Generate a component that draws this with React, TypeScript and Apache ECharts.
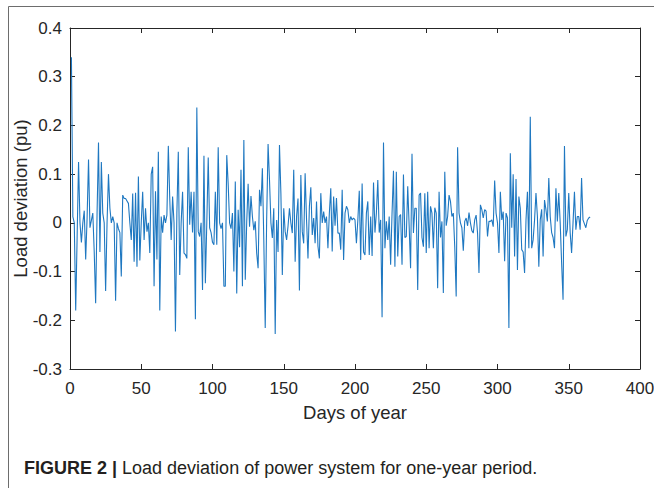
import React, { useEffect, useRef } from "react";
import * as echarts from "echarts";

// Load deviation (pu) for days 1..365
const loadDeviation: number[] = [
  0.34, 0.013, 0.0, -0.18, -0.03, 0.125, 0.0, -0.04, 0.0, 0.025,
  -0.075, 0.01, 0.13, -0.01, 0.005, 0.02, -0.06, -0.165, 0.02, 0.165,
  -0.06, 0.125, 0.02, 0.0, -0.14, 0.0, 0.1, 0.03, 0.0, 0.013,
  0.0, -0.16, 0.0, -0.012, -0.02, -0.11, 0.057, 0.05, 0.05, 0.045,
  0.04, 0.0, -0.035, 0.06, -0.08, 0.062, -0.09, 0.095, -0.077, 0.0,
  0.064, -0.035, 0.03, -0.018, 0.0, -0.062, 0.1, 0.115, -0.13, 0.065,
  -0.075, 0.146, -0.18, 0.013, -0.02, 0.016, 0.0, 0.016, 0.158, 0.05,
  -0.035, 0.054, 0.0, -0.223, 0.02, 0.146, -0.107, 0.0, 0.064, -0.062,
  -0.065, -0.073, 0.155, -0.004, 0.064, -0.02, 0.064, -0.198, 0.237, -0.018,
  -0.028, 0.0, -0.138, 0.138, -0.124, 0.0, 0.134, -0.01, -0.02, -0.04,
  -0.045, 0.064, -0.045, 0.155, 0.0, -0.012, 0.0, -0.13, -0.13, 0.139,
  0.08, 0.0, -0.012, 0.02, -0.1, 0.085, -0.145, 0.027, -0.05, 0.109,
  -0.13, 0.17, -0.117, 0.0, 0.08, -0.008, 0.055, 0.013, -0.015, 0.003,
  -0.062, -0.093, 0.068, 0.034, 0.112, -0.035, -0.216, 0.006, 0.162, 0.088,
  0.0, -0.031, 0.03, -0.228, 0.006, -0.06, 0.16, 0.06, -0.107, 0.03,
  -0.018, -0.035, -0.007, 0.03, 0.0, -0.021, 0.109, -0.08, 0.013, 0.05,
  -0.139, 0.098, -0.018, -0.042, 0.102, 0.006, -0.073, 0.034, 0.073, -0.025,
  0.01, -0.042, 0.044, -0.048, -0.073, 0.061, 0.0, 0.023, 0.0, 0.013,
  -0.052, 0.02, 0.071, -0.059, 0.054, -0.006, 0.051, -0.021, -0.021, -0.055,
  0.068, -0.076, 0.02, 0.034, 0.027, 0.0, 0.013, 0.006, 0.01, 0.006,
  -0.042, 0.006, 0.066, -0.076, 0.081, -0.06, -0.066, 0.02, 0.044, -0.066,
  0.013, -0.068, 0.083, -0.02, 0.02, 0.088, -0.02, 0.006, -0.194, 0.165,
  -0.052, 0.003, -0.035, 0.013, -0.086, 0.02, 0.107, -0.09, 0.105, -0.069,
  0.013, 0.017, -0.086, 0.099, -0.03, -0.028, 0.075, -0.006, -0.093, 0.142,
  -0.021, 0.03, 0.03, -0.138, 0.057, 0.061, -0.03, -0.049, 0.061, -0.062,
  0.064, -0.052, 0.034, 0.02, -0.052, 0.031, 0.02, -0.134, 0.064, -0.03,
  0.003, -0.144, 0.105, -0.006, 0.013, 0.057, 0.044, 0.013, 0.02, -0.049,
  -0.151, 0.155, 0.02, 0.0, -0.01, -0.057, 0.003, 0.01, -0.006, 0.021,
  0.0, -0.016, -0.021, 0.006, 0.016, -0.021, -0.103, 0.037, 0.027, 0.01,
  0.027, 0.024, -0.028, 0.003, 0.003, 0.006, -0.008, 0.087, 0.02, 0.0,
  -0.062, 0.064, 0.006, 0.023, -0.079, 0.02, 0.01, -0.216, 0.143, -0.01,
  0.1, -0.069, 0.09, -0.097, 0.054, 0.03, -0.055, -0.06, -0.103, 0.006,
  0.064, -0.052, 0.218, -0.052, -0.035, 0.006, 0.061, 0.013, -0.09, 0.006,
  0.028, -0.069, 0.047, 0.027, 0.003, 0.092, 0.013, -0.02, -0.03, -0.052,
  0.071, 0.003, 0.061, 0.0, -0.083, -0.158, 0.158, -0.028, -0.014, 0.061,
  -0.02, -0.062, 0.0, 0.064, -0.014, 0.013, 0.013, -0.014, 0.092, 0.006,
  -0.002, -0.01, 0.005, 0.01, 0.012,
];

const firstDay = 1;
const xTitle = "Days of year";
const yTitle = "Load deviation (pu)";
const captionBold = "FIGURE 2 |";
const captionText = " Load deviation of power system for one-year period.";

const FONT = "'Liberation Sans', Arial, Helvetica, sans-serif";
const AXIS_COLOR = "#262626";

export default function App() {
  const ref = useRef<HTMLDivElement>(null);

  useEffect(() => {
    document.body.style.margin = "0";
    if (!ref.current) return;
    const chart = echarts.init(ref.current, undefined, { renderer: "svg" });

    const seriesData = loadDeviation.map((v, i) => [firstDay + i, v]);

    const fmtY = (v: number) => {
      const r = Math.round(v * 10) / 10;
      return r === 0 ? "0" : String(r);
    };

    const axisLine = { show: true, onZero: false, lineStyle: { color: AXIS_COLOR, width: 1 } };
    const tick = { show: true, inside: true, length: 5, lineStyle: { color: AXIS_COLOR } };
    const labelStyle = { color: AXIS_COLOR, fontFamily: FONT, fontSize: 17 };

    chart.setOption({
      animation: false,
      backgroundColor: "#ffffff",
      grid: {
        left: 70,
        right: 14,
        top: 28,
        bottom: 119,
        containLabel: false,
        outerBoundsMode: "none",
      },
      xAxis: [
        {
          type: "value",
          min: 0,
          max: 400,
          interval: 50,
          position: "bottom",
          axisLine,
          axisTick: tick,
          splitLine: { show: false },
          axisLabel: { ...labelStyle, margin: 11 },
          name: xTitle,
          nameLocation: "middle",
          nameGap: 34,
          nameMoveOverlap: false,
          nameTextStyle: { color: AXIS_COLOR, fontFamily: FONT, fontSize: 18.5 },
        },
        {
          type: "value",
          min: 0,
          max: 400,
          interval: 50,
          position: "top",
          axisLine,
          axisTick: tick,
          splitLine: { show: false },
          axisLabel: { show: false },
        },
      ],
      yAxis: [
        {
          type: "value",
          min: -0.3,
          max: 0.4,
          interval: 0.1,
          position: "left",
          axisLine,
          axisTick: tick,
          splitLine: { show: false },
          axisLabel: { ...labelStyle, margin: 8, formatter: fmtY },
          name: yTitle,
          nameLocation: "middle",
          nameGap: 40,
          nameMoveOverlap: false,
          nameRotate: 90,
          nameTextStyle: { color: AXIS_COLOR, fontFamily: FONT, fontSize: 18.5 },
        },
        {
          type: "value",
          min: -0.3,
          max: 0.4,
          interval: 0.1,
          position: "right",
          axisLine,
          axisTick: tick,
          splitLine: { show: false },
          axisLabel: { show: false },
        },
      ],
      series: [
        {
          type: "line",
          data: seriesData,
          xAxisIndex: 0,
          yAxisIndex: 0,
          showSymbol: false,
          symbol: "none",
          lineStyle: { color: "#1f78c1", width: 1.1 },
        },
      ],
      graphic: [
        {
          type: "rect",
          shape: { x: 8.5, y: 6.5, width: 700, height: 600 },
          style: { fill: "none", stroke: "#6d6d6d", lineWidth: 1 },
          silent: true,
        },
        {
          type: "text",
          left: 24,
          top: 459,
          style: {
            text: "{b|" + captionBold + "}{n|" + captionText + "}",
            rich: {
              b: { fontFamily: FONT, fontSize: 18, fontWeight: "bold", fill: "#231f20" },
              n: { fontFamily: FONT, fontSize: 18, fill: "#231f20" },
            },
          },
        },
      ],
    });

    return () => chart.dispose();
  }, []);

  return <div ref={ref} style={{ width: 654, height: 488 }} />;
}
